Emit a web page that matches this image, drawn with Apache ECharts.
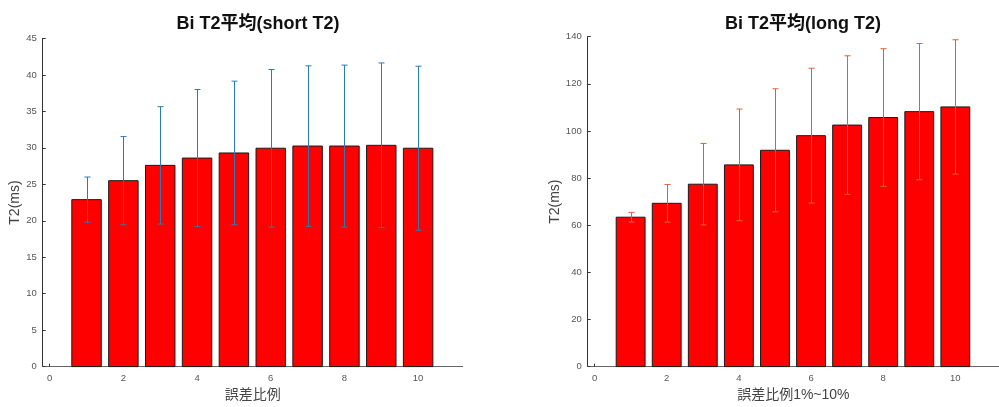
<!DOCTYPE html>
<html>
<head>
<meta charset="utf-8">
<script src="https://cdn.jsdelivr.net/npm/echarts@6/dist/echarts.min.js"></script>
<style>
  html, body { margin: 0; padding: 0; background: #fff; }
  #chart { width: 999px; height: 407px; }
</style>
</head>
<body>
<div id="chart"></div>
<script>
// Error ratio steps (x positions of the bars)
const ratios = [1, 2, 3, 4, 5, 6, 7, 8, 9, 10];

// Short T2 component: mean and error half-width (ms)
const shortMean = [22.9, 25.5, 27.6, 28.6, 29.3, 29.95, 30.25, 30.25, 30.35, 29.95];
const shortErr  = [3.1, 6.05, 8.05, 9.4, 9.85, 10.8, 11.0, 11.1, 11.3, 11.25];

// Long T2 component: mean and error half-width (ms)
const longMean = [63.4, 69.3, 77.4, 85.6, 91.8, 98.0, 102.5, 105.7, 108.2, 110.2];
const longErr  = [2.05, 8.0, 17.3, 23.7, 26.1, 28.6, 29.4, 29.2, 28.9, 28.5];

// Axis tick labels
const xTicks = [0, 2, 4, 6, 8, 10];
const titles = ['Bi T2平均(short T2)', 'Bi T2平均(long T2)'];
const xNames = ['誤差比例', '誤差比例1%~10%'];
const yName = 'T2(ms)';

const FONT = '"Liberation Sans", "Noto Sans CJK JP", sans-serif';
const BAR_HALF = 0.4;

function barItem(params, api) {
  const x = api.value(0), v = api.value(1);
  const p0 = api.coord([x - BAR_HALF, v]);
  const p1 = api.coord([x + BAR_HALF, 0]);
  return {
    type: 'rect',
    shape: { x: p0[0], y: p0[1], width: p1[0] - p0[0], height: p1[1] - p0[1] },
    style: { fill: '#ff0000', stroke: '#1a1a1a', lineWidth: 1 }
  };
}

function errItem(color) {
  return function (params, api) {
    const x = api.value(0), m = api.value(1), e = api.value(2);
    const top = api.coord([x, m + e]);
    const bot = api.coord([x, m - e]);
    const cx = Math.round(top[0]) + 0.5;
    const cap = 3;
    const st = { stroke: color, lineWidth: 1, fill: null };
    return {
      type: 'group',
      children: [
        { type: 'line', shape: { x1: cx, y1: top[1], x2: cx, y2: bot[1] }, style: st },
        { type: 'line', shape: { x1: cx - cap, y1: top[1], x2: cx + cap, y2: top[1] }, style: st },
        { type: 'line', shape: { x1: cx - cap, y1: bot[1], x2: cx + cap, y2: bot[1] }, style: st }
      ]
    };
  };
}

function xAxis(gridIndex, name) {
  return {
    type: 'value', gridIndex, min: -0.19, max: 11.21,
    name, nameLocation: 'middle', nameGap: 20,
    nameTextStyle: { fontSize: 14, color: '#444', fontFamily: FONT },
    axisLine: { lineStyle: { color: '#666', width: 1 } },
    axisTick: { show: true, inside: true, length: 3, customValues: xTicks, lineStyle: { color: '#333' } },
    axisLabel: { customValues: xTicks, fontSize: 9.5, color: '#555', margin: 7, fontFamily: FONT },
    splitLine: { show: false }
  };
}

function yAxis(gridIndex, max, interval, gap) {
  return {
    type: 'value', gridIndex, min: 0, max, interval,
    name: yName, nameLocation: 'middle', nameGap: gap, nameRotate: 90,
    nameTextStyle: { fontSize: 14, color: '#444', fontFamily: FONT },
    axisLine: { show: true, onZero: false, lineStyle: { color: '#333', width: 1 } },
    axisTick: { show: true, inside: true, length: 3, lineStyle: { color: '#333' } },
    axisLabel: { fontSize: 9.5, color: '#555', margin: 6, fontFamily: FONT },
    splitLine: { show: false }
  };
}

const chart = echarts.init(document.getElementById('chart'), null, { renderer: 'canvas' });
chart.setOption({
  animation: false,
  backgroundColor: '#fff',
  title: [
    { text: titles[0], left: 253, top: 10, textAlign: 'center',
      textStyle: { fontSize: 18, fontWeight: 'bold', color: '#111', fontFamily: FONT } },
    { text: titles[1], left: 798, top: 10, textAlign: 'center',
      textStyle: { fontSize: 18, fontWeight: 'bold', color: '#111', fontFamily: FONT } }
  ],
  grid: [
    { left: 42.7, top: 38.5, width: 420, height: 330.8 },
    { left: 587.7, top: 36.7, width: 420, height: 332.6 }
  ],
  xAxis: [xAxis(0, xNames[0]), xAxis(1, xNames[1])],
  yAxis: [yAxis(0, 45, 5, 20), yAxis(1, 140, 20, 25)],
  series: [
    { type: 'custom', xAxisIndex: 0, yAxisIndex: 0, renderItem: barItem,
      data: ratios.map((x, i) => [x, shortMean[i]]), z: 2 },
    { type: 'custom', xAxisIndex: 0, yAxisIndex: 0, renderItem: errItem('#2a7bb8'),
      data: ratios.map((x, i) => [x, shortMean[i], shortErr[i]]), z: 3 },
    { type: 'custom', xAxisIndex: 1, yAxisIndex: 1, renderItem: barItem,
      data: ratios.map((x, i) => [x, longMean[i]]), z: 2 },
    { type: 'custom', xAxisIndex: 1, yAxisIndex: 1, renderItem: errItem('#d8652e'),
      data: ratios.map((x, i) => [x, longMean[i], longErr[i]]), z: 3 }
  ]
});
</script>
</body>
</html>
